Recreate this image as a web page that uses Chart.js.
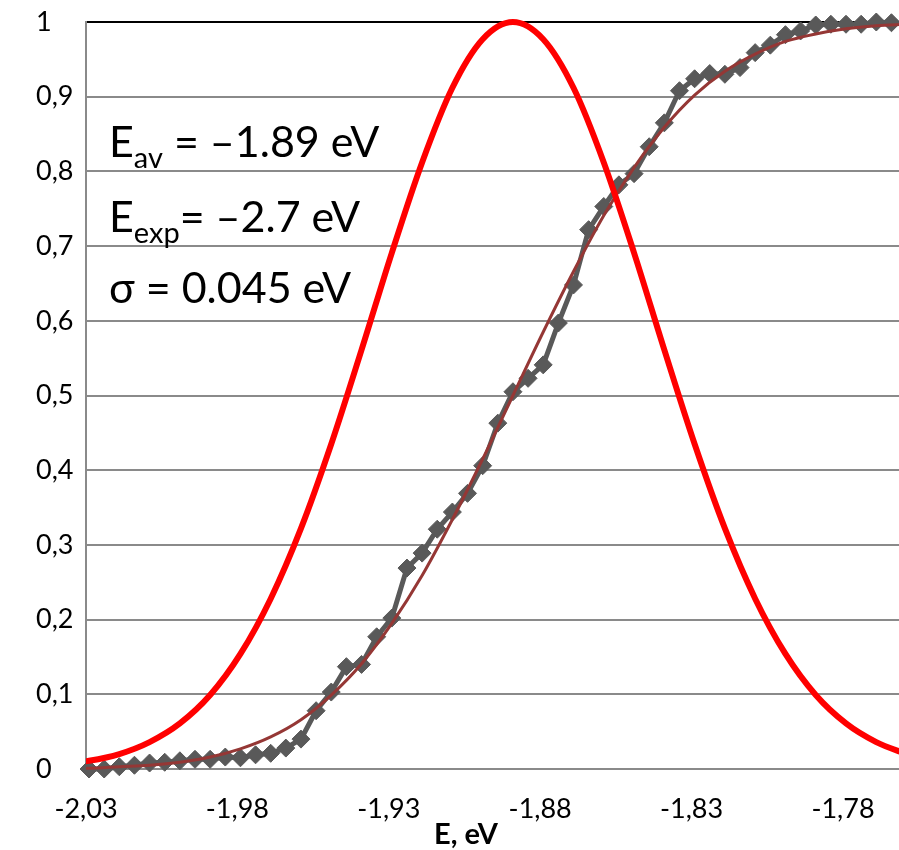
<!DOCTYPE html>
<html>
<head>
<meta charset="utf-8">
<script src="https://cdn.jsdelivr.net/npm/chart.js@4/dist/chart.umd.min.js"></script>
<style>
  body { margin: 0; background: #fff; }
  #wrap { width: 899px; height: 850px; position: relative; }
</style>
</head>
<body>
<div id="wrap"><canvas id="grafico"></canvas></div>
<script>
// measured points (grey diamonds)
var energy = [-2.030,-2.025,-2.020,-2.015,-2.010,-2.005,-2.000,-1.995,-1.990,-1.985,
              -1.980,-1.975,-1.970,-1.965,-1.960,-1.955,-1.950,-1.945,-1.940,-1.935,
              -1.930,-1.925,-1.920,-1.915,-1.910,-1.905,-1.900,-1.895,-1.890,-1.885,
              -1.880,-1.875,-1.870,-1.865,-1.860,-1.855,-1.850,-1.845,-1.840,-1.835,
              -1.830,-1.825,-1.820,-1.815,-1.810,-1.805,-1.800,-1.795,-1.790,-1.785,
              -1.780,-1.775,-1.770,-1.765];
var fraction = [0.000,0.000,0.003,0.005,0.008,0.009,0.011,0.013,0.013,0.016,
                0.015,0.019,0.021,0.028,0.040,0.078,0.103,0.137,0.140,0.177,
                0.202,0.269,0.289,0.321,0.344,0.369,0.406,0.463,0.505,0.523,
                0.541,0.597,0.648,0.722,0.753,0.782,0.797,0.833,0.865,0.908,
                0.924,0.931,0.930,0.939,0.959,0.969,0.983,0.988,0.996,0.997,
                0.997,0.997,1.000,0.999];

// smooth curves (red gaussian and dark red fit)
var curveE = [-2.04,-2.03,-2.02,-2.01,-2.00,-1.99,-1.98,-1.97,-1.96,-1.95,
              -1.94,-1.93,-1.92,-1.91,-1.90,-1.89,-1.88,-1.87,-1.86,-1.85,
              -1.84,-1.83,-1.82,-1.81,-1.80,-1.79,-1.78,-1.77,-1.76];
var gaussY = [0.006,0.011,0.020,0.036,0.061,0.099,0.154,0.228,0.322,0.435,
              0.561,0.691,0.812,0.912,0.977,1.000,0.977,0.912,0.812,0.691,
              0.561,0.435,0.322,0.228,0.154,0.099,0.061,0.036,0.020];
var fitY = [0.001,0.001,0.003,0.005,0.009,0.016,0.027,0.043,0.066,0.099,
            0.141,0.195,0.259,0.334,0.415,0.500,0.585,0.666,0.741,0.805,
            0.859,0.902,0.934,0.957,0.974,0.984,0.991,0.995,0.997];

// axes
var xMin = -2.031;
var xMax = -1.7625;
var xStep = 0.05;
var xTickLabels = ['-2,03', '-1,98', '-1,93', '-1,88', '-1,83', '-1,78'];
var xTitle = 'E, eV';

var notes = [
    { main: 'E', sub: 'av', rest: ' = \u20131.89 eV' },
    { main: 'E', sub: 'exp', rest: '= \u20132.7 eV' },
    { main: '\u03c3 = 0.045 eV', sub: '', rest: '' }
];

function toPoints(xs, ys) {
    var arr = [];
    for (var i = 0; i < xs.length; i++) {
        arr.push({ x: xs[i], y: ys[i] });
    }
    return arr;
}

var notesPlugin = {
    id: 'notes',
    afterDraw: function(chart) {
        var ctx = chart.ctx;
        var a = chart.chartArea;
        ctx.save();
        ctx.fillStyle = '#000';
        ctx.textAlign = 'left';
        ctx.textBaseline = 'alphabetic';
        var baselines = [a.top + 135, a.top + 210, a.top + 281];
        for (var i = 0; i < notes.length; i++) {
            var x = a.left + 23;
            var y = baselines[i];
            ctx.font = '43px Lato';
            ctx.fillText(notes[i].main, x, y);
            x += ctx.measureText(notes[i].main).width;
            if (notes[i].sub) {
                ctx.font = '29px Lato';
                ctx.fillText(notes[i].sub, x, y + 11);
                x += ctx.measureText(notes[i].sub).width;
            }
            ctx.font = '43px Lato';
            ctx.fillText(notes[i].rest, x, y);
        }
        // axis title
        ctx.font = 'bold 29px Lato';
        ctx.textAlign = 'center';
        ctx.fillText(xTitle, a.left + 380, a.bottom + 75);
        ctx.restore();
    }
};

var canvas = document.getElementById('grafico');
var graph = new Chart(canvas, {
    type: 'scatter',
    data: {
        datasets: [{
            data: toPoints(curveE, gaussY),
            showLine: true,
            borderColor: '#ff0000',
            borderWidth: 6,
            pointRadius: 0,
            cubicInterpolationMode: 'monotone',
            clip: { left: 0, right: 0, top: false, bottom: false }
        }, {
            data: toPoints(curveE, fitY),
            showLine: true,
            borderColor: '#953735',
            borderWidth: 3,
            pointRadius: 0,
            cubicInterpolationMode: 'monotone',
            clip: { left: 0, right: 0, top: false, bottom: false }
        }, {
            data: toPoints(energy, fraction),
            showLine: true,
            borderColor: '#595959',
            borderWidth: 5,
            pointStyle: 'rectRot',
            pointRadius: 9,
            pointBorderWidth: 1,
            pointBackgroundColor: '#595959',
            pointBorderColor: '#595959',
            clip: false
        }]
    },
    options: {
        responsive: true,
        maintainAspectRatio: false,
        animation: false,
        layout: { autoPadding: false, padding: { left: 36, top: 22, right: 0, bottom: 0 } },
        plugins: {
            legend: { display: false },
            tooltip: { enabled: false }
        },
        scales: {
            x: {
                type: 'linear',
                min: xMin,
                max: xMax,
                afterBuildTicks: function(scale) {
                    scale.ticks = xTickLabels.map(function(l, k) {
                        return { value: xMin + k * xStep };
                    });
                },
                afterFit: function(scale) {
                    scale.height = 81;
                    scale.paddingLeft = 0;
                    scale.paddingRight = 0;
                },
                ticks: {
                    padding: 24,
                    maxRotation: 0,
                    autoSkip: false,
                    color: '#000',
                    font: { family: 'Lato', size: 27 },
                    callback: function(v, idx) { return xTickLabels[idx]; }
                },
                grid: { display: false, drawTicks: false },
                border: { color: '#8a8a8a', width: 2 }
            },
            y: {
                min: 0,
                max: 1,
                afterFit: function(scale) {
                    scale.width = 50;
                    scale.paddingTop = 0;
                    scale.paddingBottom = 0;
                },
                ticks: {
                    stepSize: 0.1,
                    crossAlign: 'far',
                    color: '#000',
                    font: { family: 'Lato', size: 27 },
                    callback: function(v) { return String(Math.round(v * 10) / 10).replace('.', ','); }
                },
                grid: {
                    drawTicks: false,
                    lineWidth: 2,
                    color: function(c) { return c.tick && c.tick.value === 1 ? '#000' : '#8a8a8a'; }
                },
                border: { color: '#8a8a8a', width: 2 }
            }
        }
    },
    plugins: [notesPlugin]
});
</script>
</body>
</html>
